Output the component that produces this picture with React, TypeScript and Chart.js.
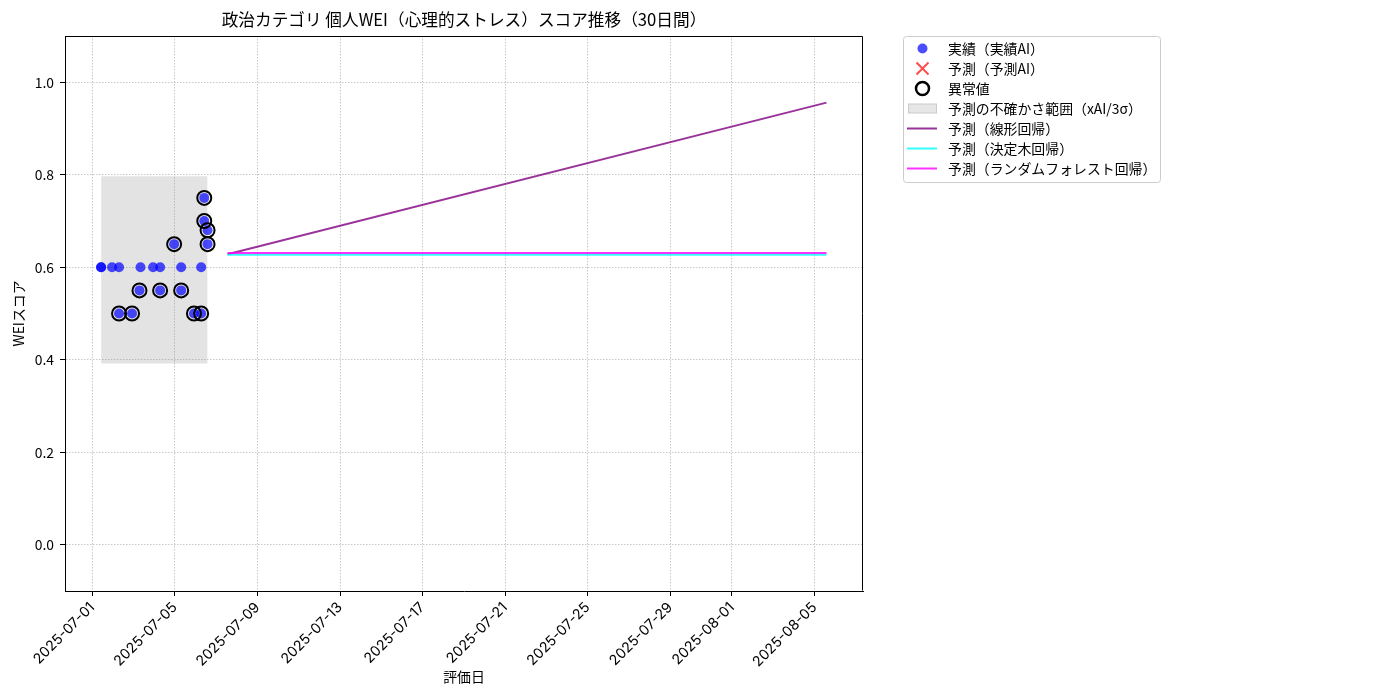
import React, { useEffect, useRef } from "react";
import { Chart, registerables } from "chart.js";

Chart.register(...registerables);

const FONT = '"Noto Sans CJK JP", "Noto Sans", sans-serif';
const XTICK_FONT = 'Inter, "Noto Sans CJK JP", sans-serif';

// ---- texts ----
const chartTitle = "政治カテゴリ 個人WEI（心理的ストレス）スコア推移（30日間）";
const xAxisTitle = "評価日";
const yAxisTitle = "WEIスコア";
const legendLabels = [
  "実績（実績AI）",
  "予測（予測AI）",
  "異常値",
  "予測の不確かさ範囲（xAI/3σ）",
  "予測（線形回帰）",
  "予測（決定木回帰）",
  "予測（ランダムフォレスト回帰）",
];

// ---- axes ----
const baseDate = "2025-07-01";
const xTickLabels = [
  "2025-07-01",
  "2025-07-05",
  "2025-07-09",
  "2025-07-13",
  "2025-07-17",
  "2025-07-21",
  "2025-07-25",
  "2025-07-29",
  "2025-08-01",
  "2025-08-05",
];
const yTickValues = [0.0, 0.2, 0.4, 0.6, 0.8, 1.0];
const xRange = [-1.33, 37.35]; // days from baseDate
const yRange = [-0.1, 1.1];

// ---- data (x = days since 2025-07-01) ----
const actualDays = [0.42, 0.42, 0.95, 1.29, 1.29, 1.92, 2.28, 2.33, 2.94, 3.28, 3.28, 3.96, 4.3, 4.3, 4.92, 5.27, 5.27, 5.42, 5.42, 5.58, 5.58];
const actualScores = [0.6, 0.6, 0.6, 0.6, 0.5, 0.5, 0.55, 0.6, 0.6, 0.6, 0.55, 0.65, 0.6, 0.55, 0.5, 0.6, 0.5, 0.7, 0.75, 0.68, 0.65];

const anomalyDays = [1.29, 1.92, 2.28, 3.28, 3.96, 4.3, 4.92, 5.27, 5.42, 5.42, 5.58, 5.58];
const anomalyScores = [0.5, 0.5, 0.55, 0.55, 0.65, 0.55, 0.5, 0.5, 0.7, 0.75, 0.68, 0.65];

const bandDays = [0.42, 5.58];
const bandUpper = [0.797, 0.797];
const bandLower = 0.392;

const predictionDays = [6.55, 35.58];
const linearPred = [0.628, 0.956];
const treePred = [0.627, 0.627];
const forestPred = [0.631, 0.631];

const toDay = (s: string) => (Date.parse(s) - Date.parse(baseDate)) / 86400000;
const xTickDays = xTickLabels.map(toDay);
const pts = (xs: number[], ys: number[]) => xs.map((x, i) => ({ x, y: ys[i] }));

const overlayPlugin = {
  id: "overlay",
  afterDraw(chart: any) {
    const { ctx, chartArea: a } = chart;
    ctx.save();
    // frame (top & right)
    ctx.strokeStyle = "#000";
    ctx.lineWidth = 1;
    ctx.beginPath();
    ctx.moveTo(Math.round(a.left) + 0.5, Math.round(a.top) + 0.5);
    ctx.lineTo(Math.round(a.right) - 0.5, Math.round(a.top) + 0.5);
    ctx.lineTo(Math.round(a.right) - 0.5, Math.round(a.bottom) - 0.5);
    ctx.stroke();

    // title
    ctx.fillStyle = "#000";
    ctx.font = `16.67px ${FONT}`;
    ctx.textAlign = "center";
    ctx.textBaseline = "middle";
    ctx.fillText(chartTitle, (a.left + a.right) / 2, 20);

    // legend box
    const lx = 903.5, ly = 36.5, lw = 257, lh = 146;
    ctx.beginPath();
    (ctx as any).roundRect(lx, ly, lw, lh, 3);
    ctx.fillStyle = "rgba(255,255,255,0.8)";
    ctx.fill();
    ctx.strokeStyle = "#cccccc";
    ctx.lineWidth = 1;
    ctx.stroke();

    const mx = 922.5;
    const rowY = (i: number) => 48.5 + i * 20;
    // 0 dot
    ctx.beginPath();
    ctx.arc(mx, rowY(0), 5, 0, Math.PI * 2);
    ctx.fillStyle = "rgba(0,0,255,0.7)";
    ctx.fill();
    // 1 red x
    ctx.strokeStyle = "rgba(255,0,0,0.7)";
    ctx.lineWidth = 2;
    ctx.beginPath();
    ctx.moveTo(mx - 6, rowY(1) - 6);
    ctx.lineTo(mx + 6, rowY(1) + 6);
    ctx.moveTo(mx + 6, rowY(1) - 6);
    ctx.lineTo(mx - 6, rowY(1) + 6);
    ctx.stroke();
    // 2 ring
    ctx.strokeStyle = "#000";
    ctx.lineWidth = 2.5;
    ctx.beginPath();
    ctx.arc(mx, rowY(2), 6.5, 0, Math.PI * 2);
    ctx.stroke();
    // 3 patch
    ctx.fillStyle = "rgba(128,128,128,0.2)";
    ctx.fillRect(908, rowY(3) - 5, 29, 10);
    ctx.strokeStyle = "rgba(128,128,128,0.25)";
    ctx.lineWidth = 1;
    ctx.strokeRect(908.5, rowY(3) - 4.5, 28, 9);
    // 4-6 lines
    const lineColors = ["rgba(128,0,128,0.8)", "rgba(0,255,255,0.8)", "rgba(255,0,255,0.8)"];
    lineColors.forEach((c, k) => {
      ctx.strokeStyle = c;
      ctx.lineWidth = 2;
      ctx.beginPath();
      ctx.moveTo(907, rowY(4 + k));
      ctx.lineTo(937, rowY(4 + k));
      ctx.stroke();
    });
    // labels
    ctx.fillStyle = "#000";
    ctx.font = `13.9px ${FONT}`;
    ctx.textAlign = "left";
    ctx.textBaseline = "middle";
    legendLabels.forEach((t, i) => ctx.fillText(t, 948, rowY(i)));
    ctx.restore();
  },
};

export default function App() {
  const ref = useRef<HTMLCanvasElement>(null);
  useEffect(() => {
    const canvas = ref.current;
    if (!canvas) return;
    Chart.defaults.font.family = FONT;
    Chart.defaults.color = "#000";
    const gridColor = "rgba(176,176,176,0.7)";
    const chart = new Chart(canvas, {
      type: "scatter",
      data: {
        datasets: [
          {
            type: "scatter",
            label: "異常値",
            data: pts(anomalyDays, anomalyScores),
            pointRadius: 7,
            pointBackgroundColor: "rgba(0,0,0,0)",
            pointBorderColor: "#000",
            pointBorderWidth: 2,
            order: 0,
          },
          {
            type: "scatter",
            label: "実績（実績AI）",
            data: pts(actualDays, actualScores),
            pointRadius: 5,
            pointBackgroundColor: "rgba(0,0,255,0.7)",
            pointBorderWidth: 0,
            order: 1,
          },
          {
            type: "line",
            label: "予測（ランダムフォレスト回帰）",
            data: pts(predictionDays, forestPred),
            borderColor: "rgba(255,0,255,0.8)",
            borderWidth: 2,
            pointRadius: 0,
            fill: false,
            order: 2,
          },
          {
            type: "line",
            label: "予測（決定木回帰）",
            data: pts(predictionDays, treePred),
            borderColor: "rgba(0,255,255,0.8)",
            borderWidth: 2,
            pointRadius: 0,
            fill: false,
            order: 3,
          },
          {
            type: "line",
            label: "予測（線形回帰）",
            data: pts(predictionDays, linearPred),
            borderColor: "rgba(128,0,128,0.8)",
            borderWidth: 2,
            pointRadius: 0,
            fill: false,
            order: 4,
          },
          {
            type: "line",
            label: "予測の不確かさ範囲（xAI/3σ）",
            data: pts(bandDays, bandUpper),
            borderWidth: 0,
            borderColor: "rgba(0,0,0,0)",
            backgroundColor: "rgba(128,128,128,0.22)",
            pointRadius: 0,
            fill: { value: bandLower },
            order: 5,
          },
        ],
      },
      options: {
        responsive: false,
        animation: false,
        devicePixelRatio: 1,
        layout: { padding: { left: 0, top: 36, right: 537, bottom: 0 } },
        plugins: {
          legend: { display: false },
          tooltip: { enabled: false },
          title: { display: false },
        },
        scales: {
          x: {
            type: "linear",
            min: xRange[0],
            max: xRange[1],
            afterBuildTicks: (s: any) => {
              s.ticks = xTickDays.map((v) => ({ value: v }));
            },
            afterFit: (s: any) => {
              s.height = 109;
            },
            ticks: {
              autoSkip: false,
              minRotation: 45,
              maxRotation: 45,
              padding: 3,
              font: { size: 14.3, family: XTICK_FONT },
              color: "#000",
              callback: (v: any) => {
                const i = xTickDays.findIndex((d) => Math.abs(d - v) < 1e-6);
                return i >= 0 ? xTickLabels[i] : "";
              },
            },
            grid: {
              color: gridColor,
              lineWidth: 1,
              tickColor: "#000",
              tickLength: 5,
              tickBorderDash: [],
              tickWidth: 1,
            },
            border: { display: true, color: "#000", width: 1, dash: [1.5, 1.5] },
            title: {
              display: true,
              text: xAxisTitle,
              font: { size: 13.9 },
              color: "#000",
              padding: { top: 0, bottom: 15 },
            },
          },
          y: {
            type: "linear",
            min: yRange[0],
            max: yRange[1],
            afterBuildTicks: (s: any) => {
              s.ticks = yTickValues.map((v) => ({ value: v }));
            },
            afterFit: (s: any) => {
              s.width = 65;
            },
            ticks: {
              padding: 6,
              font: { size: 13.9 },
              color: "#000",
              callback: (v: any) => Number(v).toFixed(1),
            },
            grid: {
              color: gridColor,
              lineWidth: 1,
              tickColor: "#000",
              tickLength: 5,
              tickBorderDash: [],
              tickWidth: 1,
            },
            border: { display: true, color: "#000", width: 1, dash: [1.5, 1.5] },
            title: {
              display: true,
              text: yAxisTitle,
              font: { size: 13.9 },
              color: "#000",
              padding: { top: 10, bottom: 0 },
            },
          },
        },
      },
      plugins: [overlayPlugin],
    } as any);
    return () => chart.destroy();
  }, []);
  return (
    <div style={{ position: "fixed", left: 0, top: 0, width: 1400, height: 700, background: "#fff" }}>
      <canvas ref={ref} width={1400} height={700} style={{ display: "block", width: 1400, height: 700 }} />
    </div>
  );
}
